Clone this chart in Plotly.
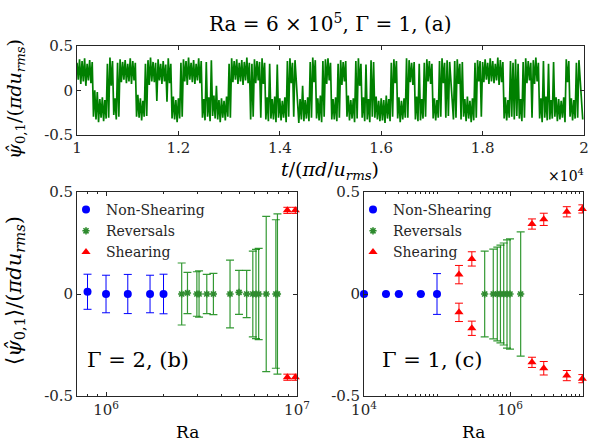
import plotly.graph_objects as go

# ---------------- data ----------------
# Panel (a): time series envelope read per 50-time-unit column (upper / lower edge of trace)
t_cols = list(range(10000, 20000, 50))
psi_hi = [
    0.31, 0.35, 0.33, 0.36, 0.30, 0.34, 0.32, 0.00, -0.02, -0.10,
    -0.08, -0.11, 0.30, 0.37, 0.33, -0.09, 0.31, 0.35, 0.32, 0.34,
    0.30, 0.36, 0.33, 0.31, -0.05, -0.09, -0.12, 0.30, 0.34, 0.37,
    0.32, 0.31, 0.35, 0.30, 0.33, 0.29, 0.36, 0.30, -0.07, -0.11,
    -0.09, 0.31, 0.35, 0.33, 0.37, 0.31, 0.34, 0.30, 0.36, 0.33,
    -0.10, 0.32, -0.08, 0.34, -0.06, 0.05, -0.11, -0.09, -0.12, -0.07,
    0.30, 0.36, 0.33, 0.35, 0.31, 0.34, 0.32, 0.37, 0.31, 0.30,
    0.35, 0.33, 0.32, 0.36, 0.31, -0.08, 0.30, -0.10, -0.07, 0.29,
    -0.09, -0.12, -0.08, 0.33, 0.36, 0.31, 0.34, -0.07, -0.10, 0.05,
    -0.11, -0.08, 0.32, 0.37, 0.34, -0.09, -0.06, 0.33, 0.35, 0.36,
    0.31, -0.10, -0.08, 0.30, 0.34, 0.32, 0.33, -0.06, -0.11, -0.09,
    0.33, 0.36, 0.30, -0.08, 0.29, -0.10, 0.34, 0.32, -0.07, -0.12,
    -0.09, -0.11, -0.06, -0.10, 0.31, 0.35, 0.33, -0.08, -0.12, -0.09,
    0.36, 0.34, 0.31, 0.32, -0.07, 0.30, -0.10, 0.31, 0.35, 0.33,
    0.30, -0.09, -0.11, 0.33, 0.36, 0.31, 0.34, 0.32, -0.08, 0.33,
    0.35, 0.30, 0.32, -0.10, -0.07, -0.12, -0.09, 0.31, 0.34, 0.33,
    0.32, 0.35, 0.31, 0.36, 0.33, 0.30, 0.37, 0.34, 0.32, -0.08,
    -0.11, 0.33, 0.31, 0.35, 0.30, -0.10, 0.32, 0.36, 0.33, 0.31,
    0.34, 0.37, 0.31, -0.09, 0.33, -0.07, 0.30, -0.11, 0.32, -0.08,
    -0.10, -0.12, -0.08, 0.35, 0.33, -0.09, -0.11, 0.31, 0.34, -0.07,
]
psi_lo = [
    0.12, 0.07, 0.10, 0.05, 0.11, 0.08, -0.30, -0.33, -0.36, -0.31,
    -0.35, -0.32, -0.31, 0.05, -0.28, -0.33, -0.30, 0.09, 0.12, 0.08,
    0.10, 0.07, 0.11, -0.30, -0.31, -0.34, -0.30, -0.29, 0.06, 0.10,
    0.09, -0.12, 0.11, 0.07, 0.10, -0.13, 0.08, -0.32, -0.33, -0.36,
    -0.32, -0.30, 0.10, 0.06, 0.12, 0.09, 0.07, 0.11, 0.08, -0.31,
    -0.34, -0.30, -0.35, -0.29, -0.32, -0.33, -0.36, -0.31, -0.34, -0.30,
    -0.31, 0.09, 0.12, 0.07, 0.10, 0.06, 0.11, 0.08, -0.33, -0.30,
    0.08, 0.11, -0.31, 0.07, -0.33, -0.35, -0.32, -0.33, -0.36, -0.31,
    -0.34, -0.31, -0.36, -0.30, 0.08, -0.30, 0.10, -0.37, -0.33, -0.35,
    -0.32, -0.35, -0.31, 0.09, -0.32, -0.34, -0.36, -0.30, 0.07, 0.11,
    -0.33, -0.33, -0.35, -0.31, 0.06, 0.10, -0.30, -0.34, -0.32, -0.36,
    -0.32, 0.05, -0.31, -0.35, -0.33, -0.36, -0.30, -0.31, -0.33, -0.35,
    -0.34, -0.37, -0.32, -0.35, -0.30, 0.08, -0.32, -0.36, -0.33, -0.31,
    -0.31, 0.09, 0.06, -0.33, -0.35, -0.34, -0.32, -0.30, 0.10, 0.07,
    -0.32, -0.34, -0.31, -0.30, 0.08, -0.31, -0.29, 0.11, -0.33, -0.31,
    0.07, -0.33, -0.30, -0.35, -0.32, -0.36, -0.34, -0.31, 0.10, -0.30,
    0.09, 0.12, 0.07, 0.10, 0.08, 0.11, 0.06, 0.09, -0.32, -0.34,
    -0.31, -0.30, -0.33, -0.29, -0.32, -0.35, -0.31, 0.08, 0.11, -0.31,
    0.07, 0.10, -0.32, -0.36, -0.31, -0.34, -0.33, -0.32, -0.30, -0.35,
    -0.33, -0.31, -0.36, 0.09, -0.30, -0.34, -0.32, -0.31, 0.08, -0.33,
]

# Panel (b): Gamma = 2
b_ns_ra = [8.0e5, 1.0e6, 1.3e6, 1.7e6, 2.0e6]
b_ns_psi = [0.011, 0.0, 0.0, 0.0, 0.0]
b_ns_err = [0.086, 0.092, 0.096, 0.092, 0.097]

b_rev_ra = [2.49e6, 2.67e6, 2.99e6, 3.07e6, 3.37e6, 3.65e6, 4.46e6, 4.97e6,
            5.45e6, 5.87e6, 6.1e6, 6.3e6, 6.9e6, 7.75e6, 7.9e6]
b_rev_psi = [0.0, 0.005, 0.0, 0.0, 0.0, 0.0, 0.0, 0.008,
             0.0, 0.0, 0.0, 0.0, 0.0, 0.0, 0.0]
b_rev_err = [0.152, 0.101, 0.109, 0.113, 0.096, 0.101, 0.166, 0.108,
             0.116, 0.210, 0.219, 0.224, 0.381, 0.364, 0.393]

b_sh_ra = [8.9e6, 9.8e6, 8.9e6, 9.8e6]
b_sh_psi = [0.41, 0.41, -0.408, -0.408]
b_sh_err = [0.015, 0.015, 0.015, 0.015]

# Panel (c): Gamma = 1
c_ns_ra = [1.0e4, 2.0e4, 3.0e4, 6.0e4, 1.0e5]
c_ns_psi = [0.0, 0.0, 0.0, 0.0, 0.0]
c_ns_err = [0.0, 0.0, 0.0, 0.0, 0.1]

c_rev_ra = [4.5e5, 5.9e5, 6.7e5, 7.4e5, 8.2e5, 9.1e5, 1.0e6, 1.4e6]
c_rev_psi = [0.0] * 8
c_rev_err = [0.21, 0.22, 0.23, 0.24, 0.25, 0.265, 0.27, 0.305]

c_sh_ra = [2.0e5, 3.0e5, 2.0e6, 2.9e6, 6.0e6, 9.8e6,
           2.0e5, 3.0e5, 2.0e6, 2.9e6, 6.0e6, 9.8e6]
c_sh_psi = [0.095, 0.172, 0.343, 0.366, 0.403, 0.417,
            -0.09, -0.168, -0.335, -0.364, -0.40, -0.415]
c_sh_err = [0.045, 0.035, 0.025, 0.03, 0.025, 0.02,
            0.045, 0.035, 0.025, 0.033, 0.025, 0.02]

top_xticks = [10000, 12000, 14000, 16000, 18000, 20000]
top_xticktext = ["1", "1.2", "1.4", "1.6", "1.8", "2"]
y_ticks = [-0.5, 0, 0.5]
y_ticktext = ["-0.5", "0", "0.5"]

# ---------------- figure ----------------
W, H = 589, 445
FONT = "DejaVu Serif"
INK = "#262626"


def px(x):
    return x / W


def py(y):
    return 1 - y / H


x_ts, y_ts = [], []
for t, h, l in zip(t_cols, psi_hi, psi_lo):
    x_ts += [t, t + 25]
    y_ts += [h, l]

fig = go.Figure()
fig.add_trace(go.Scatter(x=x_ts, y=y_ts, mode="lines", line=dict(color="#008000", width=1.7),
                         xaxis="x", yaxis="y", showlegend=False, hoverinfo="skip"))

BLUE, GREEN, RED = "#0000FF", "#008000", "#FF0000"


def add_set(ra, psi, err, ax, ay, name, color, symbol, size, legend, errcolor, thick):
    marker = dict(color=color, size=size, symbol=symbol)
    if symbol == "asterisk":
        marker["line"] = dict(color="#2e8b2e", width=1.6)
    fig.add_trace(go.Scatter(
        x=ra, y=psi, mode="markers", name=name, marker=marker,
        error_y=dict(type="data", array=err, visible=True, color=errcolor,
                     thickness=thick, width=4),
        xaxis=ax, yaxis=ay, legend=legend, cliponaxis=False))


add_set(b_ns_ra, b_ns_psi, b_ns_err, "x2", "y2", "Non-Shearing", BLUE, "circle", 8, "legend", BLUE, 1)
add_set(b_rev_ra, b_rev_psi, b_rev_err, "x2", "y2", "Reversals", GREEN, "asterisk", 6, "legend", "rgba(0,128,0,0.8)", 1.2)
add_set(b_sh_ra, b_sh_psi, b_sh_err, "x2", "y2", "Shearing", RED, "triangle-up", 8, "legend", RED, 1)

add_set(c_ns_ra, c_ns_psi, c_ns_err, "x3", "y3", "Non-Shearing", BLUE, "circle", 8, "legend2", BLUE, 1)
add_set(c_rev_ra, c_rev_psi, c_rev_err, "x3", "y3", "Reversals", GREEN, "asterisk", 6, "legend2", "rgba(0,128,0,0.8)", 1.2)
add_set(c_sh_ra, c_sh_psi, c_sh_err, "x3", "y3", "Shearing", RED, "triangle-up", 8, "legend2", RED, 1)

axis_common = dict(showline=True, linecolor=INK, linewidth=0.8, mirror="allticks",
                   ticks="inside", ticklen=4, tickcolor=INK, tickwidth=0.8,
                   showgrid=False, zeroline=False, automargin=False,
                   tickfont=dict(family=FONT, size=15, color=INK))

log_minor = dict(ticks="inside", ticklen=2, tickcolor=INK, tickwidth=0.6, dtick="D1", showgrid=False)

fig.update_layout(
    template="none",
    width=W, height=H,
    margin=dict(l=0, r=0, t=0, b=0, autoexpand=False),
    paper_bgcolor="white", plot_bgcolor="white",
    font=dict(family=FONT, color=INK),
    xaxis=dict(domain=[px(77), px(584)], range=[10000, 20000], tickmode="array",
               tickvals=top_xticks, ticktext=top_xticktext, anchor="y", **axis_common),
    yaxis=dict(domain=[py(134.5), py(46)], range=[-0.5, 0.5], tickmode="array",
               tickvals=y_ticks, ticktext=y_ticktext, anchor="x", **axis_common),
    xaxis2=dict(type="log", domain=[px(77), px(297)], range=[5.848, 7.0], tickmode="array",
                tickvals=[1e6, 1e7], ticktext=["10<sup>6</sup>", "10<sup>7</sup>"],
                anchor="y2", minor=log_minor, **axis_common),
    yaxis2=dict(domain=[py(396), py(192)], range=[-0.5, 0.5], tickmode="array",
                tickvals=y_ticks, ticktext=y_ticktext, anchor="x2", **axis_common),
    xaxis3=dict(type="log", domain=[px(364), px(583)], range=[4, 7], tickmode="array",
                tickvals=[1e4, 1e6], ticktext=["10<sup>4</sup>", "10<sup>6</sup>"],
                anchor="y3", minor=log_minor, **axis_common),
    yaxis3=dict(domain=[py(396), py(192)], range=[-0.5, 0.5], tickmode="array",
                tickvals=y_ticks, ticktext=y_ticktext, anchor="x3", **axis_common),
    legend=dict(x=px(66), y=py(194), xanchor="left", yanchor="top",
                bgcolor="rgba(0,0,0,0)", font=dict(family=FONT, size=14, color=INK),
                tracegroupgap=0, itemwidth=30),
    legend2=dict(x=px(353), y=py(194), xanchor="left", yanchor="top",
                 bgcolor="rgba(0,0,0,0)", font=dict(family=FONT, size=14, color=INK),
                 tracegroupgap=0, itemwidth=30),
)

ann = [
    dict(x=px(330), y=py(23), text="Ra = 6 × 10<sup>5</sup>, Γ = 1, (a)", size=20, angle=0),
    dict(x=px(330), y=py(170), text="<i>t</i>/(<i>πd</i>/<i>u<sub>rms</sub></i>)", size=19, angle=0),
    dict(x=px(566), y=py(175), text="×10<sup>4</sup>", size=14, angle=0),
    dict(x=px(187), y=py(432), text="Ra", size=17, angle=0),
    dict(x=px(473), y=py(432), text="Ra", size=17, angle=0),
    dict(x=px(138), y=py(360), text="Γ = 2, (b)", size=21, angle=0),
    dict(x=px(432), y=py(360), text="Γ = 1, (c)", size=21, angle=0),
    dict(x=px(15), y=py(99), text="<i>ψ̂</i><sub>0,1</sub>/(<i>πdu<sub>rms</sub></i>)", size=19, angle=-90),
    dict(x=px(15), y=py(291), text="⟨<i>ψ̂</i><sub>0,1</sub>⟩/(<i>πdu<sub>rms</sub></i>)", size=21, angle=-90),
]
for a in ann:
    fig.add_annotation(x=a["x"], y=a["y"], xref="paper", yref="paper", text=a["text"],
                       showarrow=False, xanchor="center", yanchor="middle", textangle=a["angle"],
                       font=dict(family=FONT, size=a["size"], color="black"))

fig.write_html("out.html", post_script="document.body.style.margin='0';",
               config={"displayModeBar": False})
